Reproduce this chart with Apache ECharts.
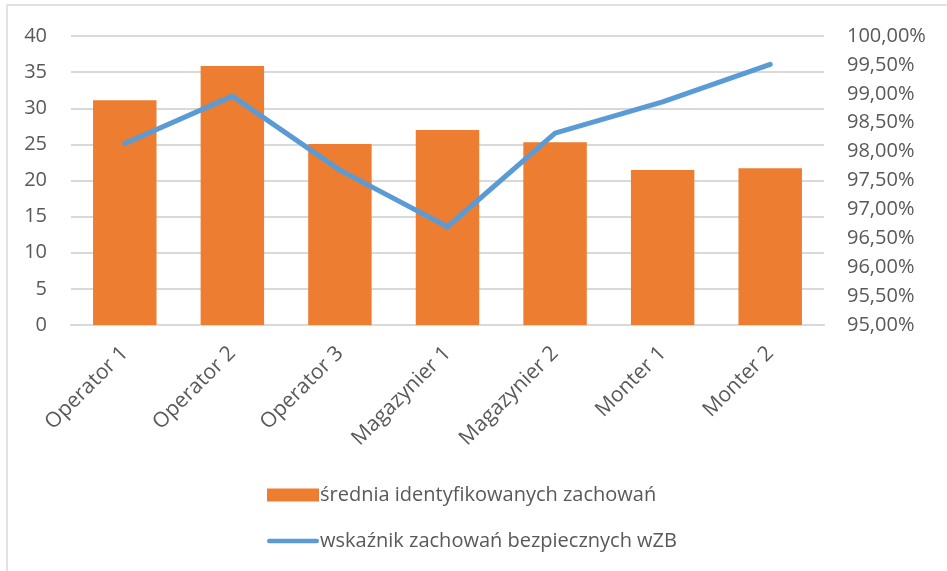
<!DOCTYPE html>
<html>
<head>
<meta charset="utf-8">
<script src="https://cdn.jsdelivr.net/npm/echarts@6/dist/echarts.min.js"></script>
<style>
  html, body { margin: 0; padding: 0; background: #fff; }
  #chart { width: 947px; height: 571px; }
</style>
</head>
<body>
<div id="chart"></div>
<script>
// Categories (job positions)
const categories = ['Operator 1', 'Operator 2', 'Operator 3', 'Magazynier 1', 'Magazynier 2', 'Monter 1', 'Monter 2'];
// Average number of identified behaviours (left axis)
const sredniaValues = [31.1, 35.85, 25.05, 27.0, 25.3, 21.45, 21.7];
// Safe behaviour indicator, in percent (right axis)
const wskaznikValues = [98.14, 98.96, 97.68, 96.70, 98.32, 98.86, 99.51];

const seriesNames = ['średnia identyfikowanych zachowań', 'wskaźnik zachowań bezpiecznych wZB'];

const FONT = '"Open Sans", sans-serif';
const TEXT = '#595959';

const chart = echarts.init(document.getElementById('chart'), null, { renderer: 'canvas' });

chart.setOption({
  animation: false,
  backgroundColor: '#fff',
  grid: { left: 71, right: 123, top: 36, bottom: 246, containLabel: false },
  graphic: [{
    type: 'rect',
    shape: { x: 7, y: 5, width: 1000, height: 1000 },
    style: { fill: 'none', stroke: '#d9d9d9', lineWidth: 1.5 },
    silent: true
  }],
  legend: {
    orient: 'vertical',
    left: 262,
    top: 480,
    itemGap: 26,
    itemWidth: 52,
    itemHeight: 13,
    symbolKeepAspect: true,
    textStyle: { fontFamily: FONT, fontSize: 20, color: TEXT, padding: [0, 0, 0, -4] },
    data: [
      { name: seriesNames[0], icon: 'rect' },
      { name: seriesNames[1], icon: 'path://M2.5,0 L54.5,0 A2.5,2.5 0 0 1 54.5,5 L2.5,5 A2.5,2.5 0 0 1 2.5,0 Z' }
    ]
  },
  xAxis: {
    type: 'category',
    data: categories,
    axisTick: { show: false },
    axisLine: { lineStyle: { color: '#d9d9d9', width: 2 } },
    axisLabel: {
      rotate: 45,
      interval: 0,
      margin: 25,
      fontFamily: FONT,
      fontSize: 21,
      color: TEXT
    }
  },
  yAxis: [{
    type: 'value',
    min: 0,
    max: 40,
    interval: 5,
    axisLine: { show: false },
    axisTick: { show: false },
    splitLine: { lineStyle: { color: '#d9d9d9', width: 2 } },
    axisLabel: { fontFamily: FONT, fontSize: 20, color: TEXT, margin: 24 }
  }, {
    type: 'value',
    min: 95,
    max: 100,
    interval: 0.5,
    position: 'right',
    axisLine: { show: false },
    axisTick: { show: false },
    splitLine: { show: false },
    axisLabel: {
      fontFamily: FONT,
      fontSize: 20,
      color: TEXT,
      margin: 23,
      formatter: v => v.toFixed(2).replace('.', ',') + '%'
    }
  }],
  series: [{
    name: seriesNames[0],
    type: 'bar',
    yAxisIndex: 0,
    data: sredniaValues,
    barCategoryGap: '41%',
    itemStyle: { color: '#ed7d31' }
  }, {
    name: seriesNames[1],
    type: 'line',
    yAxisIndex: 1,
    data: wskaznikValues,
    symbol: 'none',
    lineStyle: { color: '#5b9bd5', width: 5, cap: 'round', join: 'round' },
    itemStyle: { color: '#5b9bd5' }
  }]
});
</script>
</body>
</html>
